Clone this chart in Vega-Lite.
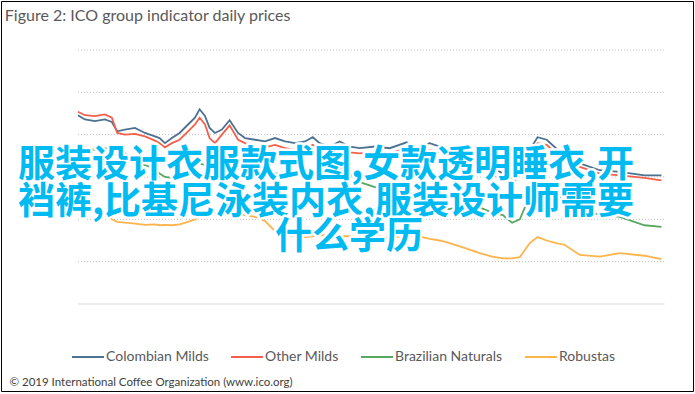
{
  "$schema": "https://vega.github.io/schema/vega-lite/v6.json",
  "width": 692,
  "height": 390,
  "autosize": {"type": "none"},
  "padding": {"left": 1, "top": 1, "right": 2, "bottom": 3},
  "background": "white",
  "config": {"view": {"stroke": "#000000", "strokeWidth": 1}, "font": "Lato"},
  "data": {
    "values": [
      {"date": "2017-03-01", "Colombian Milds": 161.5, "Other Milds": 163.5, "Brazilian Naturals": 141.5, "Robustas": 107},
      {"date": "2017-03-10", "Colombian Milds": 159, "Other Milds": 161.5, "Brazilian Naturals": 142.5, "Robustas": 107.5},
      {"date": "2017-03-23", "Colombian Milds": 158, "Other Milds": 161, "Brazilian Naturals": 141, "Robustas": 105},
      {"date": "2017-04-05", "Colombian Milds": 159, "Other Milds": 162, "Brazilian Naturals": 142, "Robustas": 103},
      {"date": "2017-04-14", "Colombian Milds": 157.5, "Other Milds": 160, "Brazilian Naturals": 141, "Robustas": 100},
      {"date": "2017-04-21", "Colombian Milds": 152, "Other Milds": 151, "Brazilian Naturals": 142.5, "Robustas": 98.5},
      {"date": "2017-05-01", "Colombian Milds": 153, "Other Milds": 150, "Brazilian Naturals": 139, "Robustas": 98},
      {"date": "2017-05-14", "Colombian Milds": 154, "Other Milds": 150.5, "Brazilian Naturals": 136, "Robustas": 97.5},
      {"date": "2017-05-27", "Colombian Milds": 151, "Other Milds": 149, "Brazilian Naturals": 132, "Robustas": 96.7},
      {"date": "2017-06-09", "Colombian Milds": 149, "Other Milds": 146.5, "Brazilian Naturals": 130, "Robustas": 97},
      {"date": "2017-06-15", "Colombian Milds": 148, "Other Milds": 145, "Brazilian Naturals": 127, "Robustas": 96.5},
      {"date": "2017-06-22", "Colombian Milds": 145, "Other Milds": 142.5, "Brazilian Naturals": 125, "Robustas": 96.7},
      {"date": "2017-07-01", "Colombian Milds": 148, "Other Milds": 145, "Brazilian Naturals": 124.5, "Robustas": 96.5},
      {"date": "2017-07-11", "Colombian Milds": 151, "Other Milds": 147, "Brazilian Naturals": 126, "Robustas": 97},
      {"date": "2017-07-22", "Colombian Milds": 156, "Other Milds": 152, "Brazilian Naturals": 129, "Robustas": 98.5},
      {"date": "2017-07-31", "Colombian Milds": 160, "Other Milds": 156, "Brazilian Naturals": 131, "Robustas": 100},
      {"date": "2017-08-06", "Colombian Milds": 165, "Other Milds": 160, "Brazilian Naturals": 133, "Robustas": 101.5},
      {"date": "2017-08-13", "Colombian Milds": 161, "Other Milds": 156, "Brazilian Naturals": 132, "Robustas": 103},
      {"date": "2017-08-19", "Colombian Milds": 154, "Other Milds": 148, "Brazilian Naturals": 131, "Robustas": 104},
      {"date": "2017-08-26", "Colombian Milds": 151, "Other Milds": 145, "Brazilian Naturals": 130, "Robustas": 103.7},
      {"date": "2017-09-04", "Colombian Milds": 153, "Other Milds": 150, "Brazilian Naturals": 130.5, "Robustas": 104},
      {"date": "2017-09-14", "Colombian Milds": 158.5, "Other Milds": 155.5, "Brazilian Naturals": 131, "Robustas": 103.5},
      {"date": "2017-09-25", "Colombian Milds": 151, "Other Milds": 147, "Brazilian Naturals": 130, "Robustas": 103},
      {"date": "2017-10-04", "Colombian Milds": 148, "Other Milds": 145, "Brazilian Naturals": 130, "Robustas": 102.5},
      {"date": "2017-10-17", "Colombian Milds": 147, "Other Milds": 143, "Brazilian Naturals": 131, "Robustas": 101.5},
      {"date": "2017-10-30", "Colombian Milds": 146, "Other Milds": 142.5, "Brazilian Naturals": 129, "Robustas": 99},
      {"date": "2017-11-12", "Colombian Milds": 148, "Other Milds": 144, "Brazilian Naturals": 127, "Robustas": 93},
      {"date": "2017-11-25", "Colombian Milds": 146, "Other Milds": 142, "Brazilian Naturals": 128, "Robustas": 91},
      {"date": "2017-12-08", "Colombian Milds": 145, "Other Milds": 141, "Brazilian Naturals": 127, "Robustas": 90},
      {"date": "2017-12-21", "Colombian Milds": 146, "Other Milds": 142, "Brazilian Naturals": 128, "Robustas": 89.5},
      {"date": "2017-12-31", "Colombian Milds": 148.5, "Other Milds": 144, "Brazilian Naturals": 129, "Robustas": 90},
      {"date": "2018-01-09", "Colombian Milds": 145, "Other Milds": 141, "Brazilian Naturals": 129.5, "Robustas": 90.5},
      {"date": "2018-01-22", "Colombian Milds": 143, "Other Milds": 140, "Brazilian Naturals": 130, "Robustas": 91},
      {"date": "2018-02-04", "Colombian Milds": 146, "Other Milds": 142, "Brazilian Naturals": 131, "Robustas": 90},
      {"date": "2018-02-17", "Colombian Milds": 143, "Other Milds": 139.5, "Brazilian Naturals": 127, "Robustas": 90},
      {"date": "2018-03-02", "Colombian Milds": 142, "Other Milds": 139, "Brazilian Naturals": 122, "Robustas": 89.5},
      {"date": "2018-03-22", "Colombian Milds": 143, "Other Milds": 140, "Brazilian Naturals": 119, "Robustas": 90},
      {"date": "2018-04-10", "Colombian Milds": 142, "Other Milds": 139, "Brazilian Naturals": 116, "Robustas": 89.5},
      {"date": "2018-05-02", "Colombian Milds": 145.5, "Other Milds": 142, "Brazilian Naturals": 113, "Robustas": 90},
      {"date": "2018-05-13", "Colombian Milds": 142, "Other Milds": 139, "Brazilian Naturals": 112, "Robustas": 90.5},
      {"date": "2018-06-01", "Colombian Milds": 145, "Other Milds": 141, "Brazilian Naturals": 109, "Robustas": 88.5},
      {"date": "2018-06-14", "Colombian Milds": 143, "Other Milds": 140, "Brazilian Naturals": 107, "Robustas": 87.5},
      {"date": "2018-06-27", "Colombian Milds": 142, "Other Milds": 138, "Brazilian Naturals": 106, "Robustas": 86},
      {"date": "2018-07-17", "Colombian Milds": 138, "Other Milds": 134, "Brazilian Naturals": 109, "Robustas": 83},
      {"date": "2018-08-05", "Colombian Milds": 134, "Other Milds": 130, "Brazilian Naturals": 107, "Robustas": 80},
      {"date": "2018-08-21", "Colombian Milds": 131, "Other Milds": 127, "Brazilian Naturals": 104, "Robustas": 78},
      {"date": "2018-09-04", "Colombian Milds": 127, "Other Milds": 123, "Brazilian Naturals": 102.5, "Robustas": 77},
      {"date": "2018-09-16", "Colombian Milds": 124, "Other Milds": 121, "Brazilian Naturals": 98, "Robustas": 77},
      {"date": "2018-09-26", "Colombian Milds": 129, "Other Milds": 126, "Brazilian Naturals": 100, "Robustas": 77.7},
      {"date": "2018-10-09", "Colombian Milds": 141, "Other Milds": 138, "Brazilian Naturals": 114, "Robustas": 86},
      {"date": "2018-10-19", "Colombian Milds": 148.5, "Other Milds": 145, "Brazilian Naturals": 121, "Robustas": 89.5},
      {"date": "2018-10-31", "Colombian Milds": 147, "Other Milds": 144, "Brazilian Naturals": 120, "Robustas": 87.5},
      {"date": "2018-11-12", "Colombian Milds": 142, "Other Milds": 139, "Brazilian Naturals": 116, "Robustas": 86},
      {"date": "2018-11-23", "Colombian Milds": 138, "Other Milds": 136, "Brazilian Naturals": 110, "Robustas": 85},
      {"date": "2018-12-13", "Colombian Milds": 133, "Other Milds": 131, "Brazilian Naturals": 104.5, "Robustas": 79},
      {"date": "2019-01-08", "Colombian Milds": 129, "Other Milds": 127, "Brazilian Naturals": 103, "Robustas": 78},
      {"date": "2019-02-03", "Colombian Milds": 128, "Other Milds": 126, "Brazilian Naturals": 101.5, "Robustas": 80},
      {"date": "2019-03-07", "Colombian Milds": 126, "Other Milds": 124.5, "Brazilian Naturals": 96.5, "Robustas": 78.5},
      {"date": "2019-03-29", "Colombian Milds": 126, "Other Milds": 123, "Brazilian Naturals": 95.5, "Robustas": 76.5}
    ]
  },
  "layer": [
    {
      "data": {"values": [{"g": 75}, {"g": 100}, {"g": 125}, {"g": 150}, {"g": 175}, {"g": 200}]},
      "mark": {"type": "rule", "color": "#bfbfbf", "strokeDash": [1, 2], "strokeWidth": 1},
      "encoding": {
        "y": {"field": "g", "type": "quantitative", "scale": {"domain": [-1.38, 228.94], "nice": false, "zero": false}, "axis": null},
        "x": {"datum": {"year": 2017, "month": 3, "date": 1, "utc": true}, "type": "temporal", "scale": {"type": "utc", "domain": [{"year": 2016, "month": 11, "date": 21, "utc": true}, {"year": 2019, "month": 5, "date": 9, "utc": true}], "nice": false}, "axis": null},
        "x2": {"datum": {"year": 2019, "month": 4, "date": 2, "utc": true}}
      }
    },
    {
      "data": {"values": [{"g": 50}]},
      "mark": {"type": "rule", "color": "#d9d9d9", "strokeWidth": 1},
      "encoding": {
        "y": {"field": "g", "type": "quantitative", "scale": {"domain": [-1.38, 228.94], "nice": false, "zero": false}, "axis": null},
        "x": {"datum": {"year": 2017, "month": 3, "date": 1, "utc": true}, "type": "temporal", "scale": {"type": "utc", "domain": [{"year": 2016, "month": 11, "date": 21, "utc": true}, {"year": 2019, "month": 5, "date": 9, "utc": true}], "nice": false}, "axis": null},
        "x2": {"datum": {"year": 2019, "month": 4, "date": 2, "utc": true}}
      }
    },
    {
      "transform": [{"fold": ["Colombian Milds", "Other Milds", "Brazilian Naturals", "Robustas"], "as": ["series", "price"]}],
      "mark": {"type": "line", "strokeWidth": 1.8, "interpolate": "linear"},
      "encoding": {
        "x": {
          "field": "date", "type": "temporal",
          "scale": {"type": "utc", "domain": [{"year": 2016, "month": 11, "date": 21, "utc": true}, {"year": 2019, "month": 5, "date": 9, "utc": true}], "nice": false},
          "axis": {
            "values": [
              {"year": 2017, "month": 3, "date": 1, "utc": true},
              {"year": 2017, "month": 6, "date": 1, "utc": true},
              {"year": 2017, "month": 9, "date": 1, "utc": true},
              {"year": 2017, "month": 12, "date": 1, "utc": true},
              {"year": 2018, "month": 3, "date": 1, "utc": true},
              {"year": 2018, "month": 6, "date": 1, "utc": true},
              {"year": 2018, "month": 9, "date": 1, "utc": true},
              {"year": 2018, "month": 12, "date": 1, "utc": true},
              {"year": 2019, "month": 3, "date": 1, "utc": true}
            ],
            "format": "%b-%y", "title": null, "orient": "bottom", "offset": -87,
            "domain": false, "ticks": false, "grid": false, "labelPadding": 12,
            "labelFontSize": 13, "labelColor": "#595959", "labelFont": "Lato", "labelOverlap": false, "labelFlush": false
          }
        },
        "y": {
          "field": "price", "type": "quantitative",
          "scale": {"domain": [-1.38, 228.94], "nice": false, "zero": false},
          "axis": {
            "values": [50, 75, 100, 125, 150, 175, 200], "orient": "left", "offset": -66,
            "domain": false, "ticks": false, "grid": false, "labelPadding": 2,
            "labelFontSize": 12.5, "labelColor": "#595959", "labelFont": "Lato",
            "title": "US cents/lb", "titleFontSize": 11, "titleFontWeight": "normal", "titleColor": "#595959", "titleFont": "Lato",
            "titleX": -52, "titleY": 172, "titleAngle": -90, "titleAlign": "center", "titleBaseline": "middle"
          }
        },
        "color": {
          "field": "series", "type": "nominal",
          "scale": {"domain": ["Colombian Milds", "Other Milds", "Brazilian Naturals", "Robustas"], "range": ["#4d7190", "#f4604c", "#58a862", "#fdb44c"]},
          "legend": {
            "orient": "none", "legendX": 70, "legendY": 339, "direction": "horizontal", "title": null,
            "symbolType": "stroke", "symbolSize": 1024, "symbolStrokeWidth": 2, "labelFontSize": 14,
            "labelColor": "#595959", "labelFont": "Lato", "labelOffset": 1, "columnPadding": 18, "padding": 0
          }
        }
      }
    },
    {
      "data": {"values": [{}]},
      "mark": {"type": "text", "text": "Figure 2: ICO group indicator daily prices", "align": "left", "baseline": "alphabetic", "fontSize": 16, "color": "#595959", "font": "Lato"},
      "encoding": {
        "x": {"datum": {"year": 2016, "month": 11, "date": 26, "utc": true}, "type": "temporal", "scale": {"type": "utc", "domain": [{"year": 2016, "month": 11, "date": 21, "utc": true}, {"year": 2019, "month": 5, "date": 9, "utc": true}], "nice": false}, "axis": null},
        "y": {"datum": 217.3, "type": "quantitative", "scale": {"domain": [-1.38, 228.94], "nice": false, "zero": false}, "axis": null}
      }
    },
    {
      "data": {"values": [{}]},
      "mark": {"type": "text", "text": "© 2019 International Coffee Organization (www.ico.org)", "align": "left", "baseline": "alphabetic", "fontSize": 11.5, "color": "#404040", "font": "Lato"},
      "encoding": {
        "x": {"datum": {"year": 2016, "month": 12, "date": 2, "utc": true}, "type": "temporal", "scale": {"type": "utc", "domain": [{"year": 2016, "month": 11, "date": 21, "utc": true}, {"year": 2019, "month": 5, "date": 9, "utc": true}], "nice": false}, "axis": null},
        "y": {"datum": 1.57, "type": "quantitative", "scale": {"domain": [-1.38, 228.94], "nice": false, "zero": false}, "axis": null}
      }
    },
    {
      "data": {"values": [{}]},
      "mark": {"type": "text", "text": ["服装设计衣服款式图,女款透明睡衣,开", "裆裤,比基尼泳装内衣,服装设计师需要"], "lineHeight": 37.5, "align": "left", "baseline": "middle", "fontSize": 37, "fontWeight": "bold", "font": "Noto Sans CJK SC", "fill": "white", "stroke": "white", "strokeWidth": 5, "strokeJoin": "round"},
      "encoding": {
        "x": {"datum": {"year": 2016, "month": 12, "date": 13, "utc": true}, "type": "temporal", "scale": {"type": "utc", "domain": [{"year": 2016, "month": 11, "date": 21, "utc": true}, {"year": 2019, "month": 5, "date": 9, "utc": true}], "nice": false}, "axis": null},
        "y": {"datum": 131.5, "type": "quantitative", "scale": {"domain": [-1.38, 228.94], "nice": false, "zero": false}, "axis": null}
      }
    },
    {
      "data": {"values": [{}]},
      "mark": {"type": "text", "text": ["服装设计衣服款式图,女款透明睡衣,开", "裆裤,比基尼泳装内衣,服装设计师需要"], "lineHeight": 37.5, "align": "left", "baseline": "middle", "fontSize": 37, "fontWeight": "bold", "font": "Noto Sans CJK SC", "fill": "#00bbf2"},
      "encoding": {
        "x": {"datum": {"year": 2016, "month": 12, "date": 13, "utc": true}, "type": "temporal", "scale": {"type": "utc", "domain": [{"year": 2016, "month": 11, "date": 21, "utc": true}, {"year": 2019, "month": 5, "date": 9, "utc": true}], "nice": false}, "axis": null},
        "y": {"datum": 131.5, "type": "quantitative", "scale": {"domain": [-1.38, 228.94], "nice": false, "zero": false}, "axis": null}
      }
    },
    {
      "data": {"values": [{}]},
      "mark": {"type": "text", "text": "什么学历", "align": "left", "baseline": "middle", "fontSize": 37, "fontWeight": "bold", "font": "Noto Sans CJK SC", "fill": "white", "stroke": "white", "strokeWidth": 5, "strokeJoin": "round"},
      "encoding": {
        "x": {"datum": {"year": 2017, "month": 11, "date": 12, "utc": true}, "type": "temporal", "scale": {"type": "utc", "domain": [{"year": 2016, "month": 11, "date": 21, "utc": true}, {"year": 2019, "month": 5, "date": 9, "utc": true}], "nice": false}, "axis": null},
        "y": {"datum": 89.0, "type": "quantitative", "scale": {"domain": [-1.38, 228.94], "nice": false, "zero": false}, "axis": null}
      }
    },
    {
      "data": {"values": [{}]},
      "mark": {"type": "text", "text": "什么学历", "align": "left", "baseline": "middle", "fontSize": 37, "fontWeight": "bold", "font": "Noto Sans CJK SC", "fill": "#00bbf2"},
      "encoding": {
        "x": {"datum": {"year": 2017, "month": 11, "date": 12, "utc": true}, "type": "temporal", "scale": {"type": "utc", "domain": [{"year": 2016, "month": 11, "date": 21, "utc": true}, {"year": 2019, "month": 5, "date": 9, "utc": true}], "nice": false}, "axis": null},
        "y": {"datum": 89.0, "type": "quantitative", "scale": {"domain": [-1.38, 228.94], "nice": false, "zero": false}, "axis": null}
      }
    }
  ]
}
